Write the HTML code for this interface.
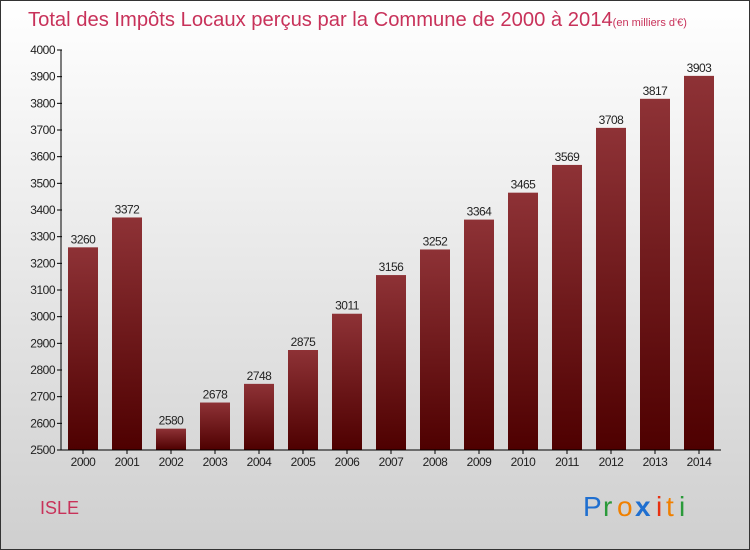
<!DOCTYPE html>
<html><head><meta charset="utf-8"><style>
body{margin:0;width:750px;height:550px;overflow:hidden;font-family:"Liberation Sans",sans-serif}
#wrap{position:absolute;left:0;top:0;width:748px;height:548px;border:1px solid #333;background:linear-gradient(#ffffff,#cfcfcf)}
</style></head><body>
<div id="wrap">
<svg id="chart" width="750" height="550" style="position:absolute;left:-1px;top:-1px">
<defs><linearGradient id="bg" x1="0" y1="0" x2="0" y2="1"><stop offset="0" stop-color="#8e3236"/><stop offset="1" stop-color="#4e0000"/></linearGradient></defs>
<text x="28" y="26" font-size="20.2" fill="#c8325a">Total des Impôts Locaux perçus par la Commune de 2000 à 2014<tspan font-size="11">(en milliers d'€)</tspan></text>
<text x="40" y="514" font-size="18" fill="#c8325a">ISLE</text>
<g font-size="28" font-family="'Liberation Sans',sans-serif">
<text x="583" y="516" fill="#1f6fd0">P</text><text x="603" y="516" fill="#2a9a3a">r</text><text x="617" y="516" fill="#f08000">o</text><text x="635" y="516" fill="#1f6fd0" font-weight="bold">x</text><text x="656" y="516" fill="#e83010">i</text><text x="666" y="516" fill="#f08000">t</text><text x="679" y="516" fill="#2a9a3a">i</text>
</g>
</svg>
</div>
<script>
const years=["2000","2001","2002","2003","2004","2005","2006","2007","2008","2009","2010","2011","2012","2013","2014"];
const values=[3260,3372,2580,2678,2748,2875,3011,3156,3252,3364,3465,3569,3708,3817,3903];
const yTicks=[2500,2600,2700,2800,2900,3000,3100,3200,3300,3400,3500,3600,3700,3800,3900,4000];
const NS="http://www.w3.org/2000/svg",svg=document.getElementById('chart');
const x0=61,step=44,bw=30,yMin=2500,yMax=4000,yTop=50,yBot=450;
const y=v=>yBot-(v-yMin)/(yMax-yMin)*(yBot-yTop);
const xc=i=>x0+step*i+22;
function mk(t,a){const e=document.createElementNS(NS,t);for(const k in a)e.setAttribute(k,a[k]);svg.appendChild(e);return e;}
yTicks.forEach(v=>{
 const l=mk('line',{x1:x0-4,x2:x0+1,y1:y(v),y2:y(v),stroke:'#000'});
 
 
 const t=mk('text',{x:x0-6,y:y(v)+4,'font-size':12,'text-anchor':'end',fill:'#222','letter-spacing':'-0.5'});
 t.textContent=v;
 
 
});
values.forEach((v,i)=>{
 const r=mk('rect',{x:xc(i)-bw/2,y:y(v),width:bw,height:yBot-y(v),fill:'url(#bg)'});
 
 
 const t=mk('text',{x:xc(i),y:y(v)-4,'font-size':12,'text-anchor':'middle',fill:'#222','letter-spacing':'-0.5'});
 t.textContent=v;
 
 
 const tk=mk('line',{x1:xc(i),x2:xc(i),y1:yBot,y2:yBot+4,stroke:'#000'});
 
 
 const xl=mk('text',{x:xc(i),y:yBot+16,'font-size':12,'text-anchor':'middle',fill:'#222','letter-spacing':'-0.5'});
 xl.textContent=years[i];
 
 
});
const ya=mk('line',{x1:x0,x2:x0,y1:yTop,y2:yBot,stroke:'#000'});


const xa=mk('line',{x1:x0,x2:x0+step*15,y1:yBot,y2:yBot,stroke:'#000'});


</script>
</body></html>
